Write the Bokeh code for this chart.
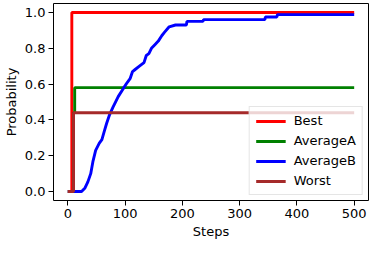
from bokeh.plotting import figure
from bokeh.embed import file_html
from bokeh.resources import INLINE
from bokeh.models import FixedTicker, PrintfTickFormatter, Legend, LegendItem, Range1d

# Data
best_x = [0, 7, 500]
best_y = [0.0, 1.0, 1.0]

avgA_x = [0, 10, 12, 500]
avgA_y = [0.0, 0.44, 0.58, 0.58]

avgB_x = [0, 24, 30, 35, 40, 44, 48.6, 55, 59.5, 64, 67.7, 73, 78.7, 88, 97.8, 104, 108.7,
          113, 117, 125, 133, 137, 141.5, 146, 152, 158, 164, 169, 177, 188, 207, 208,
          236, 237, 344, 345, 365, 366, 500]
avgB_y = [0.0, 0.0, 0.02, 0.054, 0.10, 0.17, 0.23, 0.27, 0.29, 0.34, 0.38, 0.43, 0.47, 0.53,
          0.58, 0.61, 0.63, 0.67, 0.68, 0.70, 0.72, 0.76, 0.77, 0.80, 0.82, 0.84, 0.87, 0.89,
          0.92, 0.93, 0.93, 0.95, 0.95, 0.96, 0.96, 0.975, 0.975, 0.988, 0.988]

worst_x = [0, 10, 500]
worst_y = [0.0, 0.44, 0.44]

x_ticks = [0, 100, 200, 300, 400, 500]
y_ticks = [0.0, 0.2, 0.4, 0.6, 0.8, 1.0]

FONT = "DejaVu Sans"

p = figure(width=369, height=241, output_backend="svg", toolbar_location=None,
           x_range=Range1d(-25, 525), y_range=Range1d(-0.05, 1.05),
           min_border_left=0, min_border_right=1, min_border_top=3, min_border_bottom=0)

p.xgrid.visible = False
p.ygrid.visible = False
p.outline_line_color = "black"
p.outline_line_width = 1
p.background_fill_color = "white"
p.border_fill_color = "white"

lw = 2.9
r_best = p.step(best_x, best_y, mode="after", line_color="#ff0000", line_width=lw)
r_a = p.step(avgA_x, avgA_y, mode="after", line_color="#008000", line_width=lw)
r_b = p.line(avgB_x, avgB_y, line_color="#0000ff", line_width=lw)
r_w = p.step(worst_x, worst_y, mode="after", line_color="#a52a2a", line_width=lw)

for ax in (p.xaxis[0], p.yaxis[0]):
    ax.axis_line_color = None
    ax.major_tick_line_color = "black"
    ax.major_tick_out = 5
    ax.major_tick_in = 0
    ax.minor_tick_line_color = None
    ax.major_label_text_font = FONT
    ax.major_label_text_font_size = "13px"
    ax.major_label_text_color = "black"
    ax.axis_label_text_font = FONT
    ax.axis_label_text_font_size = "13px"
    ax.axis_label_text_font_style = "normal"
    ax.axis_label_text_color = "black"
    ax.major_label_standoff = 3
    ax.axis_label_standoff = 3

p.xaxis.ticker = FixedTicker(ticks=x_ticks)
p.yaxis.ticker = FixedTicker(ticks=y_ticks)
p.yaxis.formatter = PrintfTickFormatter(format="%.1f")
p.xaxis.axis_label = "Steps"
p.yaxis.axis_label = "Probability"

legend = Legend(items=[
    LegendItem(label="Best", renderers=[r_best]),
    LegendItem(label="AverageA", renderers=[r_a]),
    LegendItem(label="AverageB", renderers=[r_b]),
    LegendItem(label="Worst", renderers=[r_w]),
], location="bottom_right")
legend.label_text_font = FONT
legend.label_text_font_size = "13px"
legend.label_text_color = "black"
legend.label_height = 14
legend.glyph_width = 30
legend.glyph_height = 14
legend.spacing = 5
legend.padding = 6
legend.margin = 5
legend.label_standoff = 8
legend.border_line_color = "#cccccc"
legend.border_line_width = 1
legend.background_fill_alpha = 0.8
p.add_layout(legend)

open("out.html", "w").write(file_html(p, INLINE))
